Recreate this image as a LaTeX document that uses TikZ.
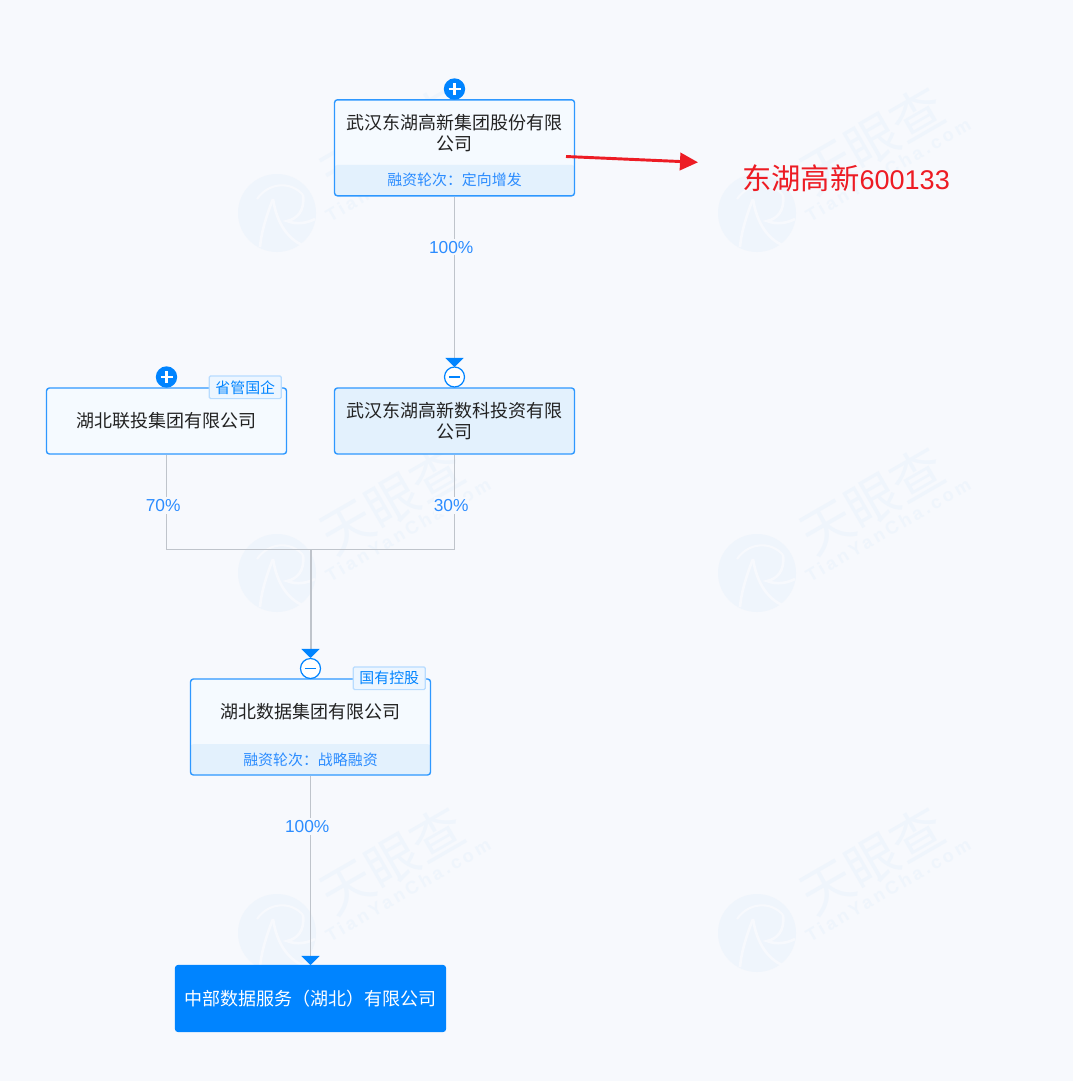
\documentclass[tikz,border=0pt]{standalone}
\usepackage{fontspec}
\setmainfont{Noto Sans CJK SC}
\newfontfamily\latinfont{Liberation Sans}
\usetikzlibrary{arrows.meta,calc}
\definecolor{pagebg}{HTML}{F7F9FD}
\definecolor{markpale}{HTML}{EFF5FC}
\definecolor{tianblue}{HTML}{0084FF}
\definecolor{edgeblue}{HTML}{2E98FF}
\definecolor{cardfill}{HTML}{F5FAFF}
\definecolor{bandfill}{HTML}{E3F1FD}
\definecolor{tagfill}{HTML}{EDF6FF}
\definecolor{tagedge}{HTML}{B8DCFF}
\definecolor{linkgrey}{HTML}{BFC4CB}
\definecolor{inkgrey}{HTML}{222222}
\definecolor{pctblue}{HTML}{2B8CFF}
\definecolor{notered}{HTML}{ED1C24}
\tikzset{
  card/.style={draw=edgeblue, line width=1.05pt, fill=cardfill, rounded corners=2.2pt, minimum width=180pt, inner sep=0pt},
  bandcard/.style={card, minimum height=72pt, path picture={
      \fill[bandfill] (path picture bounding box.south west) rectangle ([yshift=23.2pt]path picture bounding box.south east);}},
  plaincard/.style={card, minimum height=49.5pt},
  namefont/.style={text=inkgrey, align=center, inner sep=0pt, font=\fontsize{13.5}{15.4}\selectfont},
  bandfont/.style={text=pctblue, inner sep=0pt, font=\fontsize{11.2}{13}\selectfont},
  tagbox/.style={draw=tagedge, line width=0.9pt, fill=tagfill, text=tianblue, rounded corners=1pt, anchor=east,
    minimum width=54pt, minimum height=17pt, inner sep=0pt, font=\fontsize{11.2}{13}\selectfont},
  pct/.style={fill=pagebg, text=pctblue, inner xsep=0pt, inner ysep=1.5pt, xshift=-2.5pt, font=\latinfont\fontsize{13}{15}\selectfont},
  link/.style={draw=linkgrey, line width=1.2pt},
  tiplink/.style={link, -{Triangle[color=tianblue, width=13.5pt, length=6.8pt]}},
  toggleplus/.style={circle, fill=tianblue, minimum size=16pt, inner sep=0pt, path picture={
      \draw[white, line width=1.8pt] ([xshift=-4.5pt]path picture bounding box.center) -- ([xshift=4.5pt]path picture bounding box.center);
      \draw[white, line width=1.8pt] ([yshift=-4.5pt]path picture bounding box.center) -- ([yshift=4.5pt]path picture bounding box.center);}},
  toggleminus/.style={circle, draw=tianblue, line width=0.9pt, fill=white, minimum size=15pt, inner sep=0pt, path picture={
      \draw[tianblue, line width=1pt] ([xshift=-4.2pt]path picture bounding box.center) -- ([xshift=4.2pt]path picture bounding box.center);}},
}
\begin{document}
\begin{tikzpicture}[x=0.75pt, y=-0.75pt]
\useasboundingbox[fill=pagebg] (0,0) rectangle (1073,1081);
% watermark
\foreach \wx/\wy/\wid in {0/0/a, 480/0/b, 0/1/c, 480/1/d, 0/2/e, 480/2/f}{
  \begin{scope}[shift={({277+\wx},{213+\wy*360})}]
    \fill[markpale] (0,0) circle (39);
    \draw[pagebg, line width=1.6pt] (-20,-14) .. controls (-8,-31) and (14,-32) .. (26,-18);
    \draw[pagebg, line width=2pt] (-4,-14) .. controls (-12,6) and (-16,22) .. (-17,34);
    \draw[pagebg, line width=2pt] (-4,-14) .. controls (0,12) and (12,26) .. (25,32);
    \draw[pagebg, line width=2pt] (26,-18) .. controls (28,-2) and (20,6) .. (10,8) .. controls (20,12) and (30,10) .. (38,6);
    \node[rotate=30, text=markpale, inner sep=0pt, font=\fontsize{39}{39}\selectfont] (mark\wid) at (115,-73) {天眼查};
    \node[rotate=30, text=markpale, inner sep=0pt, font=\latinfont\fontsize{13.5}{14}\selectfont\bfseries] (site\wid) at (131,-43) {\addfontfeature{LetterSpace=18}TianYanCha.com};
  \end{scope}
}
% cards
\node[bandcard] (hitech) at (454.5,147.8) {};
\node[namefont] (hitechname) at (454.5,133) {武汉东湖高新集团股份有限\\公司};
\node[bandfont] (hitechround) at (454.5,180) {融资轮次：定向增发};
\node[plaincard, fill=bandfill] (shuke) at (454.5,421) {};
\node[namefont] (shukename) at (454.5,421) {武汉东湖高新数科投资有限\\公司};
\node[plaincard] (liantou) at (166.5,421) {};
\node[namefont] (liantouname) at (166.5,421) {湖北联投集团有限公司};
\node[bandcard] (shuju) at (310.5,727) {};
\node[namefont] (shujuname) at (310.5,712) {湖北数据集团有限公司};
\node[bandfont] (shujuround) at (310.5,760) {融资轮次：战略融资};
\node[card, draw=tianblue, fill=tianblue, minimum width=202.5pt, minimum height=49.5pt] (zhongbu) at (310.5,998.5) {};
\node[namefont, text=white] (zhongbuname) at (310.5,998.5) {中部数据服务（湖北）有限公司};
% tags
\node[tagbox] (liantoutag) at ([xshift=-4pt]liantou.north east) {省管国企};
\node[tagbox] (shujutag) at ([xshift=-4pt]shuju.north east) {国有控股};
% toggles
\node[toggleplus] (hitechplus) at (454.5,89) {};
\node[toggleplus] (liantouplus) at (166.5,377) {};
\node[toggleminus] (shukeminus) at (454.5,377) {};
\node[toggleminus] (shujuminus) at (310.5,668.5) {};
% links
\coordinate (shuketip) at (454.5,367);
\coordinate (shujutip) at (310.5,658);
\coordinate (zhongbutip) at (310.5,965);
\coordinate (joint) at (310.5,549.5);
\draw[tiplink] (hitech.south) -- node[pct, pos=0.298] (pcttop) {100\%} (shuketip);
\draw[link] (liantou.south) |- node[pct, pos=0.268] (pctleft) {70\%} (joint);
\draw[link] (shuke.south) |- node[pct, pos=0.268] (pctright) {30\%} (joint);
\draw[tiplink, line width=1.5pt] (joint) -- (shujutip);
\draw[tiplink] (shuju.south) -- node[pct, pos=0.268] (pctlow) {100\%} (zhongbutip);
% red note
\coordinate (notestart) at (566,156.5);
\coordinate (noteend) at (698,162.3);
\draw[notered, line width=2.2pt, -{Triangle[width=13pt, length=13.5pt]}] (notestart) -- (noteend);
\node[text=notered, inner sep=0pt, font=\fontsize{22}{24}\selectfont] (notetext) at (846,178) {东湖高新{\latinfont\fontsize{20.3}{24}\selectfont 600133}};
\end{tikzpicture}
\end{document}
